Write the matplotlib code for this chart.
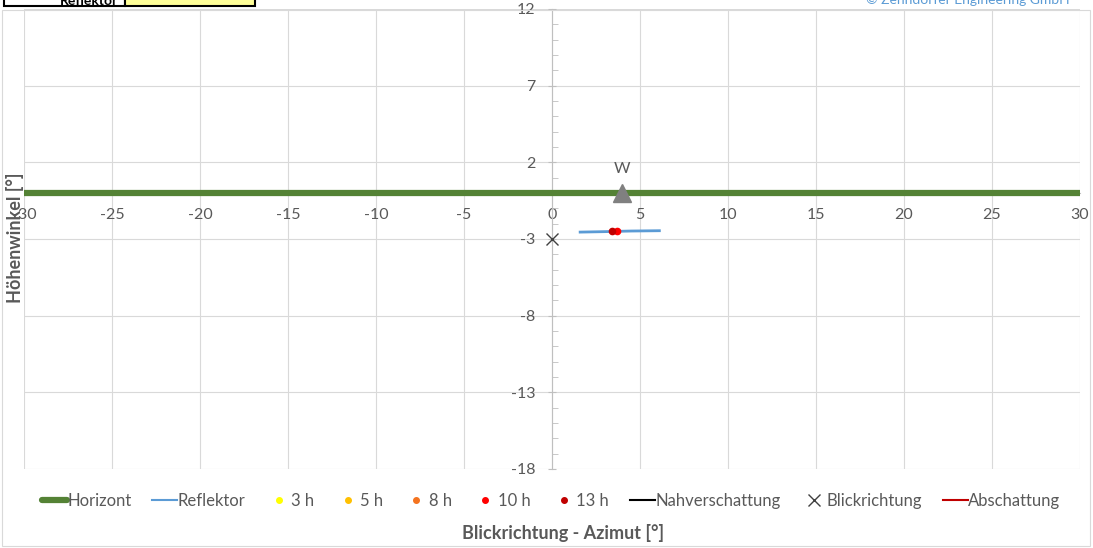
import matplotlib
matplotlib.use("Agg")
import matplotlib.pyplot as plt
from matplotlib.ticker import MultipleLocator, FixedLocator
from matplotlib.lines import Line2D
from matplotlib.patches import Rectangle

plt.rcParams['font.family'] = ['Lato', 'DejaVu Sans']

# ---- data ----
horizon_x = [-30, 30]
horizon_y = [0, 0]
reflector_x = [1.6, 3.0, 4.5, 6.1]
reflector_y = [-2.55, -2.52, -2.48, -2.46]
dot_labels = ["3 h", "5 h", "8 h", "10 h", "13 h"]
dot_colors = ["#FFFF00", "#FFC000", "#F4731F", "#FF0000", "#C00000"]
dot_x = [None, None, None, 3.69, 3.39]
dot_y = [None, None, None, -2.46, -2.46]
view_x = [0]
view_y = [-3]
marker_w_x = [4.0]
marker_w_y = [0.0]
marker_w_label = "W"
x_ticks = [-30, -25, -20, -15, -10, -5, 0, 5, 10, 15, 20, 25, 30]
y_ticks = [12, 7, 2, -3, -8, -13, -18]

TXT = "#595959"
GRID = "#D9D9D9"

fig = plt.figure(figsize=(10.93, 5.48), dpi=100)
ax = fig.add_axes([24/1093, 1-469/548, (1080-24)/1093, (469-9)/548])

ax.set_xlim(-30, 30)
ax.set_ylim(-18, 12)

# grid
for x in x_ticks:
    ax.axvline(x, color=GRID, lw=0.8, zorder=0)
for y in y_ticks:
    ax.axhline(y, color=GRID, lw=0.8, zorder=0)

for s in ['top', 'right']:
    ax.spines[s].set_visible(False)
ax.spines['left'].set_position(('data', 0))
ax.spines['bottom'].set_position(('data', 0))
ax.spines['left'].set_color("#BFBFBF")
ax.spines['bottom'].set_color("#BFBFBF")
ax.spines['left'].set_linewidth(0.8)

ax.xaxis.set_major_locator(FixedLocator(x_ticks))
ax.yaxis.set_major_locator(FixedLocator(y_ticks))
ax.yaxis.set_minor_locator(MultipleLocator(1))
ax.tick_params(axis='x', which='both', length=0, pad=11, labelsize=11.5, labelcolor=TXT)
ax.tick_params(axis='y', which='major', direction='inout', length=6, color="#BFBFBF",
               pad=9, labelsize=11.5, labelcolor=TXT)
ax.tick_params(axis='y', which='minor', direction='in', length=4, color="#BFBFBF")
ax.set_xticklabels([str(v) for v in x_ticks])
ax.set_yticklabels([str(v) for v in y_ticks])

# series
ax.plot(horizon_x, horizon_y, color="#548235", lw=4.5, solid_capstyle='butt', zorder=3, clip_on=False)
ax.plot(reflector_x, reflector_y, color="#5B9BD5", lw=2.0, zorder=4)
for lbl, c, x, y in zip(dot_labels, dot_colors, dot_x, dot_y):
    if x is not None:
        ax.plot([x], [y], 'o', color=c, ms=4.5, zorder=5)
ax.plot(view_x, view_y, 'x', color="#404040", ms=8, mew=1.0, zorder=5)
ax.plot(marker_w_x, marker_w_y, '^', color="#808080", ms=13, zorder=6)
ax.text(marker_w_x[0], 1.55, marker_w_label, ha='center', va='center', fontsize=11.5, color=TXT)

# axis titles
fig.text(15/1093, 1-238/548, "Höhenwinkel [°]", rotation=90, ha='center', va='center',
         fontsize=13, fontweight='bold', color=TXT)
fig.text(563/1093, 1-533/548, "Blickrichtung - Azimut [°]", ha='center', va='center',
         fontsize=13, fontweight='bold', color=TXT)

# legend
handles = [Line2D([], [], color="#548235", lw=4.5, solid_capstyle='round'),
           Line2D([], [], color="#5B9BD5", lw=1.5)]
for c in dot_colors:
    handles.append(Line2D([], [], ls='none', marker='o', color=c, ms=4))
handles += [Line2D([], [], color="black", lw=1.5),
            Line2D([], [], ls='none', marker='x', color="#404040", ms=8, mew=1.0),
            Line2D([], [], color="#C00000", lw=1.5)]
labels = ["Horizont", "Reflektor"] + dot_labels + ["Nahverschattung", "Blickrichtung", "Abschattung"]
fig.legend(handles, labels, loc='center', bbox_to_anchor=(551/1093, 1-501/548), ncol=10,
           frameon=False, fontsize=12, labelcolor=TXT, handlelength=1.5, handletextpad=0.0,
           columnspacing=1.25)

# outer chart border
fig.patches.append(Rectangle((2/1093, 2/548), 1088/1093, (546-10)/548, transform=fig.transFigure,
                             fill=False, ec=GRID, lw=0.8))

# cut-off table fragment top-left
fig.patches.append(Rectangle((4/1093, 1-6/548), 121/1093, 20/548, transform=fig.transFigure,
                             fc='white', ec='black', lw=1.5, zorder=10))
fig.patches.append(Rectangle((125/1093, 1-6/548), 130/1093, 20/548, transform=fig.transFigure,
                             fc='#FFFF99', ec='black', lw=1.5, zorder=10))
fig.text(118/1093, 1-1/548, "Reflektor", ha='right', va='center', fontsize=10, fontweight='bold',
         color='black', zorder=11)
fig.text(1070/1093, 1-0/548, "© Zehndorfer Engineering GmbH", ha='right', va='center', fontsize=10,
         color="#5B9BD5")

fig.savefig("out.png", dpi=100)
